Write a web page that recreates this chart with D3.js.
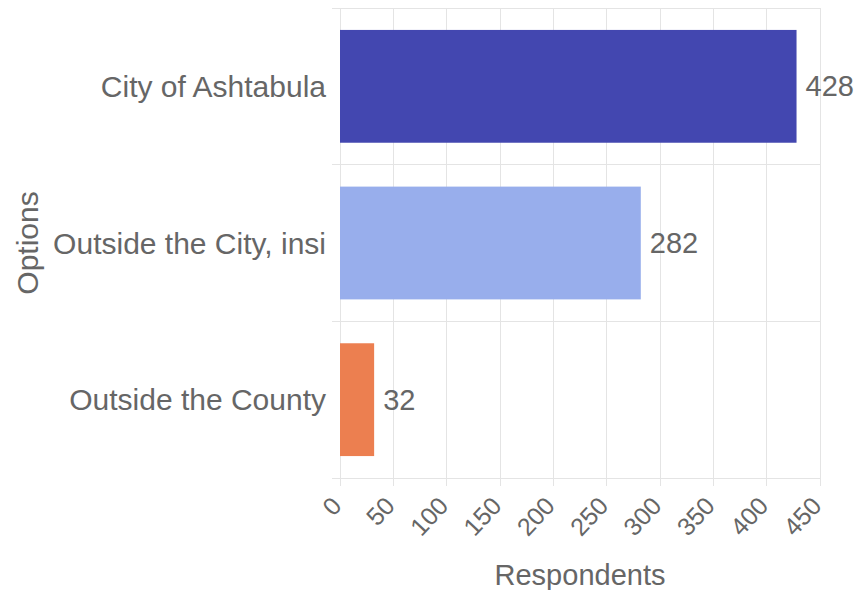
<!DOCTYPE html>
<html><head><meta charset="utf-8">
<script src="https://cdn.jsdelivr.net/npm/d3@7"></script>
<style>body{margin:0;background:#fff}svg{display:block}text{font-family:"Liberation Sans",Arial,sans-serif;fill:#666}</style>
</head><body><svg id="c" width="856" height="590"></svg>
<script>
const categories = ["City of Ashtabula", "Outside the City, insi", "Outside the County"];
const values = [428, 282, 32];
const colors = ["#4347b0", "#98aeec", "#ec7f50"];
const xTicks = [0, 50, 100, 150, 200, 250, 300, 350, 400, 450];
const xTitle = "Respondents";
const yTitle = "Options";

const W = 856, H = 590;
const m = {left: 340, right: 36, top: 8, bottom: 112};
const svg = d3.select("#c");
const x = d3.scaleLinear().domain([0, 450]).range([m.left, W - m.right]);
const y = d3.scaleBand().domain(categories).range([m.top, H - m.bottom]);
const grid = "#e4e4e4";

// vertical grid lines (with tick extension)
svg.append("g").selectAll("line").data(xTicks).join("line")
  .attr("x1", d => x(d)).attr("x2", d => x(d))
  .attr("y1", m.top).attr("y2", H - m.bottom + 8)
  .attr("stroke", grid).attr("stroke-width", 1).attr("shape-rendering", "crispEdges");
// horizontal grid lines at band boundaries
const bounds = categories.map(c => y(c)).concat([y.range()[1]]);
svg.append("g").selectAll("line").data(bounds).join("line")
  .attr("x1", m.left - 8).attr("x2", W - m.right)
  .attr("y1", d => d).attr("y2", d => d)
  .attr("stroke", grid).attr("stroke-width", 1).attr("shape-rendering", "crispEdges");

// bars
const bh = y.bandwidth() * 0.72;
svg.append("g").selectAll("rect").data(values).join("rect")
  .attr("x", x(0)).attr("y", (d, i) => y(categories[i]) + (y.bandwidth() - bh) / 2)
  .attr("width", d => x(d) - x(0)).attr("height", bh)
  .attr("fill", (d, i) => colors[i]);

// value labels
svg.append("g").selectAll("text").data(values).join("text")
  .attr("x", d => x(d) + 9).attr("y", (d, i) => y(categories[i]) + y.bandwidth() / 2)
  .attr("dy", "0.35em").attr("font-size", 29).text(d => d);

// y labels
svg.append("g").selectAll("text").data(categories).join("text")
  .attr("x", m.left - 14).attr("y", d => y(d) + y.bandwidth() / 2)
  .attr("dy", "0.35em").attr("text-anchor", "end").attr("font-size", 30).text(d => d);

// x tick labels rotated
svg.append("g").selectAll("text").data(xTicks).join("text")
  .attr("transform", d => `translate(${x(d) + 3},${H - m.bottom + 29}) rotate(-47)`)
  .attr("text-anchor", "end").attr("font-size", 25).text(d => d);

// titles
svg.append("text").attr("x", x(225)).attr("y", 585).attr("text-anchor", "middle")
  .attr("font-size", 29).text(xTitle);
svg.append("text").attr("transform", `translate(38,${(m.top + H - m.bottom) / 2}) rotate(-90)`)
  .attr("text-anchor", "middle").attr("font-size", 30).text(yTitle);
</script></body></html>
